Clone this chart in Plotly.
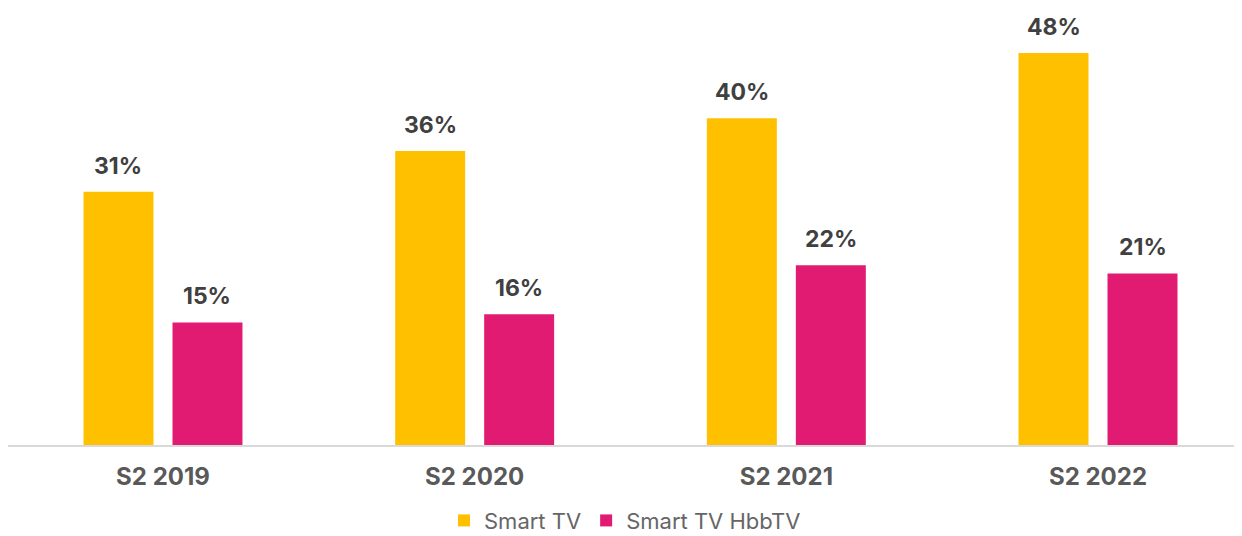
import plotly.graph_objects as go

# --- DATA ---
periods = ["S2 2019", "S2 2020", "S2 2021", "S2 2022"]
smart_tv = [31, 36, 40, 48]
smart_tv_hbbtv = [15, 16, 22, 21]

YELLOW = "#FFC000"
PINK = "#E21B72"
FONT = "Inter"

fig = go.Figure()
fig.add_trace(go.Bar(x=periods, y=smart_tv, name="Smart TV",
                     marker=dict(color=YELLOW, line_width=0)))
fig.add_trace(go.Bar(x=periods, y=smart_tv_hbbtv, name="Smart TV HbbTV",
                     marker=dict(color=PINK, line_width=0)))

# value labels above the bars
for vals, shift in [(smart_tv, -44.5), (smart_tv_hbbtv, 44.5)]:
    for p, v in zip(periods, vals):
        fig.add_annotation(x=p, y=v, text=f"<b>{v}%</b>", showarrow=False,
                           xshift=shift, yshift=26, yanchor="middle",
                           font=dict(family=FONT, size=23, color="#404040"))

# page body has an 8px margin, so the figure is sized to fit the window
fig.update_layout(
    width=1234, height=528,
    margin=dict(l=0, r=0, t=0, b=91, autoexpand=False),
    plot_bgcolor="white", paper_bgcolor="white",
    barmode="group", bargap=0.429, bargroupgap=0.2136,
    showlegend=True,
    legend=dict(orientation="h", x=0.5, xanchor="center", y=-0.125, yanchor="top",
                font=dict(family=FONT, size=22, color="#666666"),
                traceorder="normal"),
    font=dict(family=FONT),
)
fig.update_xaxes(range=[-0.4973, 3.462], showline=True, linecolor="#D9D9D9", linewidth=2,
                 ticks="", tickfont=dict(family=FONT, size=24, color="#595959"),
                 tickvals=periods, ticktext=[f"<b>{p}</b>" for p in periods],
                 ticklabelstandoff=9)
fig.update_yaxes(range=[0, 53.5], visible=False, showgrid=False, zeroline=False)

fig.write_html("out.html")
